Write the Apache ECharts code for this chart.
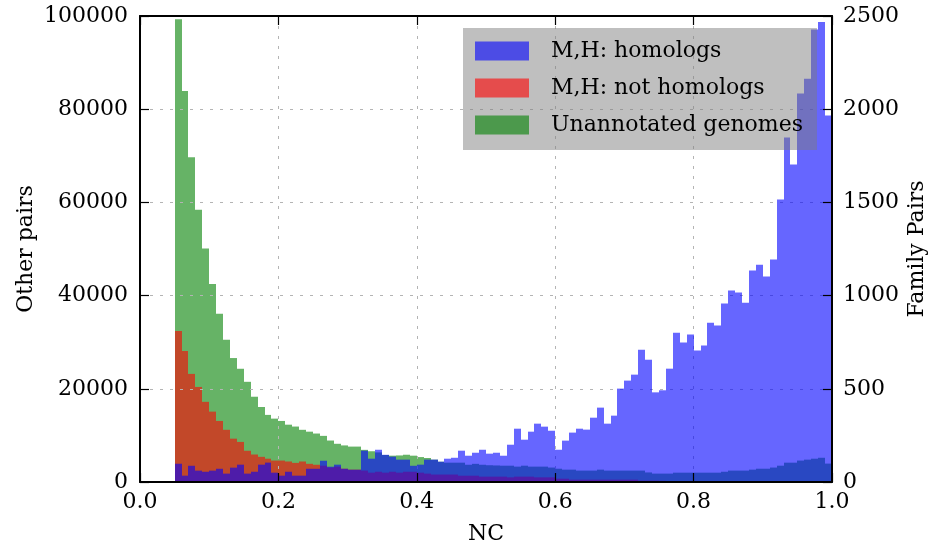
<!DOCTYPE html>
<html>
<head>
<meta charset="utf-8">
<script src="https://cdn.jsdelivr.net/npm/echarts@6/dist/echarts.min.js"></script>
<style>
  html, body { margin: 0; padding: 0; background: #fff; }
  #chart { width: 934px; height: 550px; }
</style>
</head>
<body>
<div id="chart"></div>
<script>
// Histogram of NC scores, bins of width 0.01 (lower edges listed below)
const binWidth = 0.01;
const binStart = [
  0.05, 0.06, 0.07, 0.08, 0.09, 0.10, 0.11, 0.12, 0.13, 0.14,
  0.15, 0.16, 0.17, 0.18, 0.19, 0.20, 0.21, 0.22, 0.23, 0.24,
  0.25, 0.26, 0.27, 0.28, 0.29, 0.30, 0.31, 0.32, 0.33, 0.34,
  0.35, 0.36, 0.37, 0.38, 0.39, 0.40, 0.41, 0.42, 0.43, 0.44,
  0.45, 0.46, 0.47, 0.48, 0.49, 0.50, 0.51, 0.52, 0.53, 0.54,
  0.55, 0.56, 0.57, 0.58, 0.59, 0.60, 0.61, 0.62, 0.63, 0.64,
  0.65, 0.66, 0.67, 0.68, 0.69, 0.70, 0.71, 0.72, 0.73, 0.74,
  0.75, 0.76, 0.77, 0.78, 0.79, 0.80, 0.81, 0.82, 0.83, 0.84,
  0.85, 0.86, 0.87, 0.88, 0.89, 0.90, 0.91, 0.92, 0.93, 0.94,
  0.95, 0.96, 0.97, 0.98, 0.99
];

// Unannotated genomes (left axis, "Other pairs")
const unannotated = [
  99300, 83900, 69700, 58400, 50100, 42500, 36100, 30500, 26600, 24300,
  21500, 18300, 16100, 14400, 13600, 13100, 12300, 11900, 11200, 10800,
  10400, 9900, 8900, 8200, 7850, 7600, 7600, 6900, 6600, 6350,
  5800, 5650, 5700, 5850, 5650, 5350, 5150, 4800, 4350, 4150,
  4150, 4150, 3700, 3900, 3700, 3600, 3550, 3500, 3500, 3300,
  3500, 3300, 3300, 3300, 3100, 2850, 2650, 2650, 2450, 2450,
  2450, 2650, 2450, 2450, 2450, 2450, 2450, 2450, 2050, 1800,
  1800, 1800, 2000, 2000, 2000, 2000, 2000, 2000, 2000, 2200,
  2450, 2450, 2450, 2650, 2850, 2850, 3100, 3500, 4150, 4150,
  4600, 4800, 5000, 5200, 3950
];

// M,H: not homologs (left axis, "Other pairs")
const notHomologs = [
  32400, 28100, 23200, 20400, 17200, 15100, 13100, 11200, 9300, 8600,
  6700, 5900, 5400, 5000, 4600, 4600, 4400, 4100, 4400, 3900,
  3700, 3500, 3100, 3300, 2850, 2650, 2650, 2450, 2000, 2200,
  2000, 2200, 2000, 2200, 2200, 2000, 1800, 1600, 1600, 1600,
  1600, 1350, 1350, 1350, 1150, 1150, 1150, 1150, 1000, 1150,
  1150, 1150, 1000, 1000, 1000, 700, 700, 500, 500, 500,
  500, 500, 500, 500, 500, 500, 500, 300, 300, 300,
  250, 200, 200, 150, 150, 100, 100, 100, 50, 50,
  0, 0, 0, 0, 0, 0, 0, 0, 0, 0,
  0, 0, 0, 0, 0
];

// M,H: homologs (right axis, "Family Pairs")
const homologs = [
  98, 34, 87, 61, 55, 61, 71, 45, 77, 93,
  45, 55, 93, 104, 50, 34, 55, 34, 34, 71,
  71, 114, 82, 93, 71, 66, 66, 168, 125, 173,
  146, 136, 120, 120, 87, 93, 120, 120, 109, 125,
  130, 168, 141, 157, 173, 152, 157, 141, 200, 286,
  227, 270, 313, 297, 275, 173, 222, 265, 286, 281,
  345, 399, 313, 356, 501, 544, 576, 710, 656, 481,
  492, 608, 801, 748, 791, 705, 732, 855, 839, 957,
  1027, 1016, 962, 1134, 1166, 1102, 1193, 1515, 1848, 1703,
  2084, 2164, 2427, 2468, 1966
];

const xTicks = { min: 0, max: 1, step: 0.2 };
const leftTicks = { min: 0, max: 100000, step: 20000 };
const rightTicks = { min: 0, max: 2500, step: 500 };

const FONT = 'DejaVu Serif';
const textBase = { fontFamily: FONT, fontSize: 22, color: '#000' };
const plainNumber = v => String(v);

// One rectangle per bin, from the lower edge to lower edge + binWidth
function histBar(params, api) {
  const x0 = api.value(0);
  const v = api.value(1);
  const top = api.coord([x0, v]);
  const bottom = api.coord([x0 + binWidth, 0]);
  const left = Math.round(top[0]);
  const right = Math.round(bottom[0]);
  return {
    type: 'rect',
    shape: { x: left, y: top[1], width: right - left, height: bottom[1] - top[1] },
    style: api.style()
  };
}

function histSeries(name, values, color, yAxisIndex, z) {
  return {
    name: name,
    type: 'custom',
    xAxisIndex: 0,
    yAxisIndex: yAxisIndex,
    z: z,
    renderItem: histBar,
    encode: { x: 0, y: 1 },
    itemStyle: { color: color },
    data: binStart.map((x, i) => [x, values[i]])
  };
}

const frameLine = { show: true, onZero: false, lineStyle: { color: '#000', width: 2 } };
const innerTick = { show: true, inside: true, length: 9, lineStyle: { color: '#000', width: 1.2 } };
const gridDots = { show: true, lineStyle: { color: '#b4b4b4', width: 1, type: [3, 7] } };

const chart = echarts.init(document.getElementById('chart'), null, { renderer: 'canvas' });
chart.setOption({
  animation: false,
  backgroundColor: '#fff',
  grid: { left: 140, right: 102, top: 16, bottom: 68, containLabel: false, outerBoundsMode: 'none' },
  legend: {
    data: ['M,H: homologs', 'M,H: not homologs', 'Unannotated genomes'],
    orient: 'vertical',
    left: 463,
    top: 28,
    padding: [12, 14, 14, 12],
    itemWidth: 54,
    itemHeight: 19,
    itemGap: 15,
    icon: 'rect',
    selectedMode: false,
    backgroundColor: 'rgba(124,124,124,0.49)',
    borderWidth: 0,
    z: 3,
    textStyle: Object.assign({}, textBase, { lineHeight: 19, padding: [0, 0, 0, 17] })
  },
  xAxis: [
    {
      // grid lines only, drawn between the "other pairs" bars and the family bars
      type: 'value', position: 'bottom', z: 1.5,
      min: xTicks.min, max: xTicks.max, interval: xTicks.step,
      axisLine: { show: false }, axisTick: { show: false }, axisLabel: { show: false },
      splitLine: gridDots
    },
    {
      type: 'value', position: 'bottom', z: 5,
      min: xTicks.min, max: xTicks.max, interval: xTicks.step,
      axisLine: frameLine, axisTick: innerTick,
      axisLabel: Object.assign({ margin: 9, formatter: v => v.toFixed(1) }, textBase),
      splitLine: { show: false },
      name: 'NC', nameLocation: 'middle', nameGap: 41, nameMoveOverlap: false,
      nameTextStyle: textBase
    },
    {
      type: 'value', position: 'top', z: 5,
      min: xTicks.min, max: xTicks.max, interval: xTicks.step,
      axisLine: frameLine, axisTick: innerTick,
      axisLabel: { show: false }, splitLine: { show: false }
    }
  ],
  yAxis: [
    {
      type: 'value', position: 'left', z: 1.5,
      min: leftTicks.min, max: leftTicks.max, interval: leftTicks.step,
      axisLine: frameLine, axisTick: innerTick,
      axisLabel: Object.assign({ margin: 12, formatter: plainNumber }, textBase),
      splitLine: gridDots,
      name: 'Other pairs', nameLocation: 'middle', nameRotate: 90, nameGap: 103,
      nameMoveOverlap: false,
      nameTextStyle: textBase
    },
    {
      type: 'value', position: 'right', z: 5,
      min: rightTicks.min, max: rightTicks.max, interval: rightTicks.step,
      axisLine: frameLine, axisTick: innerTick,
      axisLabel: Object.assign({ margin: 11, formatter: plainNumber }, textBase),
      splitLine: { show: false },
      name: 'Family Pairs', nameLocation: 'middle', nameRotate: 90, nameGap: 74,
      nameMoveOverlap: false,
      nameTextStyle: textBase
    }
  ],
  series: [
    histSeries('Unannotated genomes', unannotated, 'rgba(0,128,0,0.6)', 0, 1),
    histSeries('M,H: not homologs', notHomologs, 'rgba(255,0,0,0.6)', 0, 1),
    histSeries('M,H: homologs', homologs, 'rgba(0,0,255,0.6)', 1, 2)
  ]
});
</script>
</body>
</html>
